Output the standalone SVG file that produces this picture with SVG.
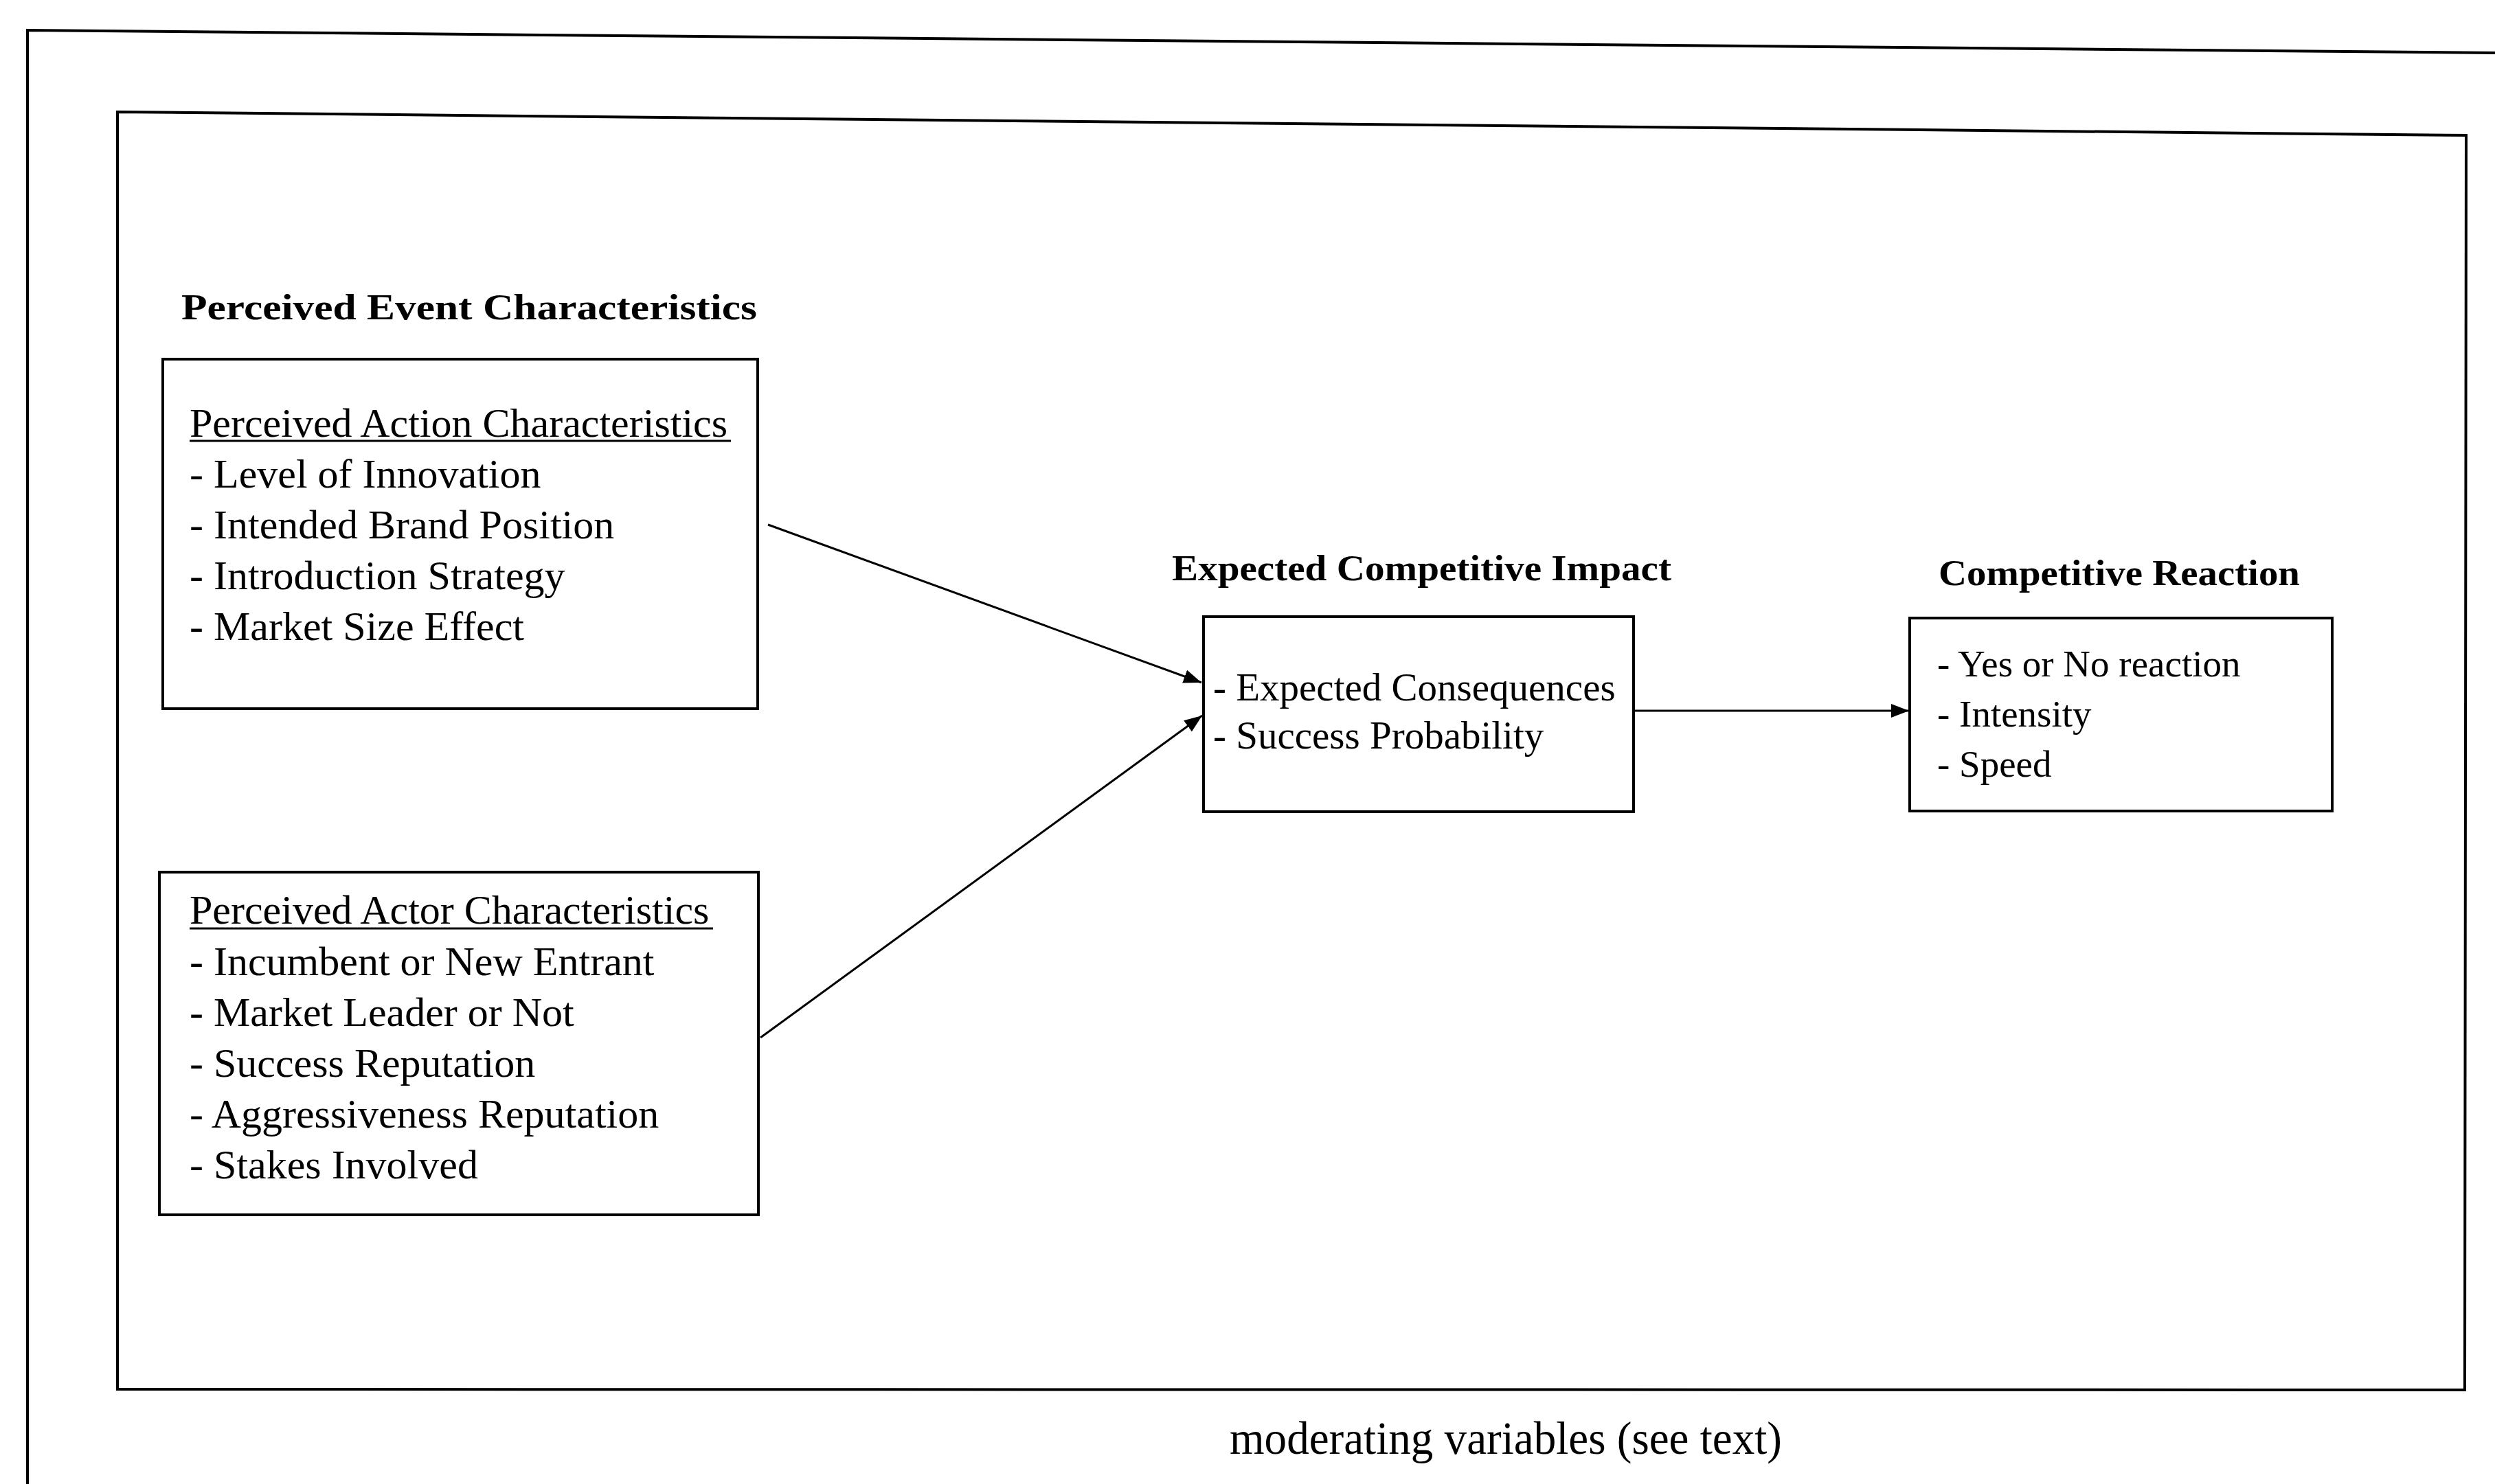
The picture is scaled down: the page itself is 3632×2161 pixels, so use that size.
<svg xmlns="http://www.w3.org/2000/svg" width="3632" height="2161" viewBox="0 0 3632 2161">
  <style>
    .frame { fill: none; stroke: #000; stroke-width: 4; stroke-linejoin: miter; }
    .box { fill: #fff; stroke: #000; stroke-width: 4; }
    .head { font-family: "Liberation Serif", "Times New Roman", serif; font-weight: bold; font-size: 53px; fill: #000; }
    .body { font-family: "Liberation Serif", "Times New Roman", serif; font-size: 60px; fill: #000; }
    .body57 { font-family: "Liberation Serif", "Times New Roman", serif; font-size: 57px; fill: #000; }
    .body55 { font-family: "Liberation Serif", "Times New Roman", serif; font-size: 55px; fill: #000; }
    .ul { stroke: #000; stroke-width: 3; }
    .conn { fill: none; stroke: #000; stroke-width: 3; }
  </style>
  <defs>
    <marker id="arrow" viewBox="0 0 26 20" refX="26" refY="10" markerWidth="26" markerHeight="20" markerUnits="userSpaceOnUse" orient="auto">
      <path d="M0,0 L26,10 L0,20 Z" fill="#000"/>
    </marker>
  </defs>

  <rect width="3632" height="2161" fill="#fff"/>

  <!-- page border, cut off at right and bottom -->
  <polyline class="frame" points="40,2161 40,44 3632,77"/>
  <!-- frame enclosing the model -->
  <polygon class="frame" points="171,163 3590,197 3588,2024 171,2023"/>

  <!-- group headings -->
  <g id="heading-event">
    <text class="head" x="264" y="465" textLength="838" lengthAdjust="spacingAndGlyphs">Perceived Event Characteristics</text>
  </g>
  <g id="heading-impact">
    <text class="head" x="1706" y="845" textLength="727" lengthAdjust="spacingAndGlyphs">Expected Competitive Impact</text>
  </g>
  <g id="heading-reaction">
    <text class="head" x="2822" y="852" textLength="526" lengthAdjust="spacingAndGlyphs">Competitive Reaction</text>
  </g>

  <!-- action characteristics -->
  <g id="node-action">
    <rect class="box" x="237" y="523" width="866" height="509"/>
    <text class="body" x="276" y="636">Perceived Action Characteristics</text>
    <line class="ul" x1="276" y1="642" x2="1064" y2="642"/>
    <text class="body" x="276" y="710">- Level of Innovation</text>
    <text class="body" x="276" y="784">- Intended Brand Position</text>
    <text class="body" x="276" y="858">- Introduction Strategy</text>
    <text class="body" x="276" y="932">- Market Size Effect</text>
  </g>

  <!-- actor characteristics -->
  <g id="node-actor">
    <rect class="box" x="232" y="1270" width="872" height="499"/>
    <text class="body" x="276" y="1345">Perceived Actor Characteristics</text>
    <line class="ul" x1="276" y1="1352" x2="1038" y2="1352"/>
    <text class="body" x="276" y="1420">- Incumbent or New Entrant</text>
    <text class="body" x="276" y="1494">- Market Leader or Not</text>
    <text class="body" x="276" y="1568">- Success Reputation</text>
    <text class="body" x="276" y="1642">- Aggressiveness Reputation</text>
    <text class="body" x="276" y="1716">- Stakes Involved</text>
  </g>

  <!-- expected impact -->
  <g id="node-impact">
    <rect class="box" x="1752" y="898" width="626" height="284"/>
    <text class="body57" x="1766" y="1020">- Expected Consequences</text>
    <text class="body57" x="1766" y="1090">- Success Probability</text>
  </g>

  <!-- competitive reaction -->
  <g id="node-reaction">
    <rect class="box" x="2780" y="900" width="615" height="281"/>
    <text class="body55" x="2820" y="985">- Yes or No reaction</text>
    <text class="body55" x="2820" y="1058">- Intensity</text>
    <text class="body55" x="2820" y="1131">- Speed</text>
  </g>

  <!-- connectors -->
  <g id="connectors">
    <line class="conn" x1="1118" y1="764" x2="1749" y2="994" marker-end="url(#arrow)"/>
    <line class="conn" x1="1107" y1="1511" x2="1750" y2="1042" marker-end="url(#arrow)"/>
    <line class="conn" x1="2378" y1="1035" x2="2779" y2="1035" marker-end="url(#arrow)"/>
  </g>

  <!-- caption below the frame -->
  <g id="caption">
    <text class="body" x="1790" y="2117" style="font-size:68px" textLength="804" lengthAdjust="spacingAndGlyphs">moderating variables (see text)</text>
  </g>
</svg>
